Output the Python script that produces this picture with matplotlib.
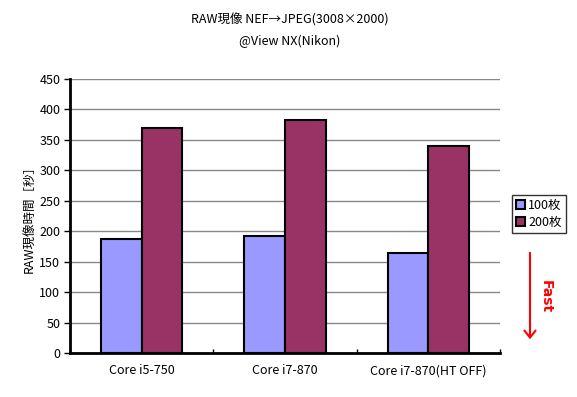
import matplotlib
matplotlib.use("Agg")
import matplotlib.pyplot as plt
import numpy as np

plt.rcParams['font.family'] = ['Noto Sans CJK JP', 'DejaVu Sans']

categories = ["Core i5-750", "Core i7-870", "Core i7-870(HT OFF)"]
series_names = ["100枚", "200枚"]
values_100 = [188, 192, 164]
values_200 = [370, 383, 340]
yticks = [0, 50, 100, 150, 200, 250, 300, 350, 400, 450]

fig = plt.figure(figsize=(5.77, 3.97), dpi=100)
ax = fig.add_axes([70/577, 1-353/397, 430/577, 274/397])

x = np.arange(len(categories))
w = 0.283
b1 = ax.bar(x - w/2, values_100, w, color="#9999ff", edgecolor="black", linewidth=1.5, label=series_names[0], zorder=3)
b2 = ax.bar(x + w/2, values_200, w, color="#993366", edgecolor="black", linewidth=1.5, label=series_names[1], zorder=3)

ax.set_xlim(-0.5, len(categories) - 0.5)
ax.set_ylim(0, 450)
ax.set_yticks(yticks)
ax.set_yticklabels([str(t) for t in yticks], fontsize=9)
ax.set_xticks(x)
ax.set_xticklabels(categories, fontsize=9)
ax.tick_params(axis='x', length=0, pad=8)
ax.tick_params(axis='y', direction='out', length=4, width=1, pad=3)
ax.set_xticks(np.arange(len(categories) + 1) - 0.5, minor=True)
ax.tick_params(axis='x', which='minor', direction='in', length=3, width=1)
ax.yaxis.grid(True, color="#888888", linewidth=1, zorder=0)
ax.set_axisbelow(True)
for s in ['top', 'right']:
    ax.spines[s].set_visible(False)
for s in ['left', 'bottom']:
    ax.spines[s].set_linewidth(2)
ax.set_ylabel("RAW現像時間［秒］", fontsize=9, labelpad=3)

fig.text(290/577, 1-20/397, "RAW現像 NEF→JPEG(3008×2000)", ha='center', va='center', fontsize=9)
fig.text(290/577, 1-41/397, "@View NX(Nikon)", ha='center', va='center', fontsize=9)

leg = fig.legend(handles=[b1, b2], labels=series_names, loc='upper left',
                 bbox_to_anchor=(512/577, 1-195/397), fontsize=9, frameon=True,
                 fancybox=False, edgecolor='black', handlelength=0.7, handleheight=0.7,
                 handletextpad=0.3, borderpad=0.3, labelspacing=0.35, borderaxespad=0)
leg.get_frame().set_linewidth(1)

fig.patches.append(matplotlib.patches.FancyArrowPatch(
    (530/577, 1-250/397), (530/577, 1-342/397), transform=fig.transFigure,
    arrowstyle='->,head_width=4,head_length=5', color='red', linewidth=1.5))
fig.text(546/577, 1-297/397, "Fast", rotation=-90, color='red', fontweight='bold',
         fontsize=10, ha='center', va='center', family=['DejaVu Sans'])

fig.savefig("out.png", dpi=100, facecolor='white')
